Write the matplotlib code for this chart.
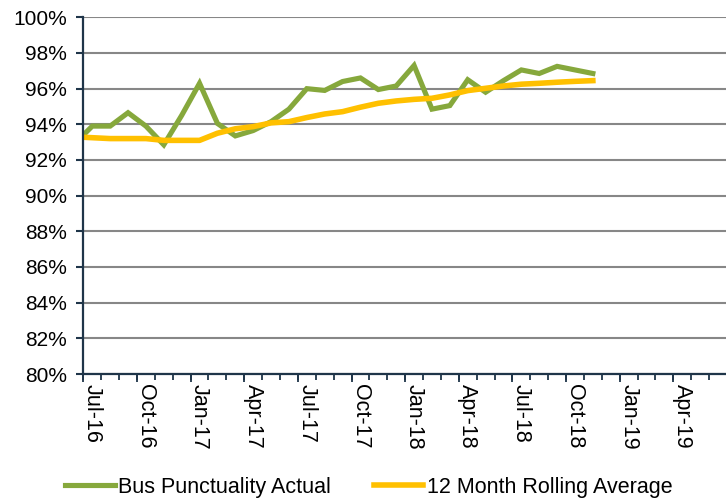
import numpy as np
import matplotlib.pyplot as plt
from matplotlib.ticker import FuncFormatter, FixedLocator

plt.rcParams['font.family'] = ['Liberation Sans', 'DejaVu Sans']

# monthly data, Jun-16 .. Nov-18 (axis starts at Jul-16)
months = ['Jun-16', 'Jul-16', 'Aug-16', 'Sep-16', 'Oct-16', 'Nov-16', 'Dec-16',
          'Jan-17', 'Feb-17', 'Mar-17', 'Apr-17', 'May-17', 'Jun-17', 'Jul-17',
          'Aug-17', 'Sep-17', 'Oct-17', 'Nov-17', 'Dec-17', 'Jan-18', 'Feb-18',
          'Mar-18', 'Apr-18', 'May-18', 'Jun-18', 'Jul-18', 'Aug-18', 'Sep-18',
          'Oct-18', 'Nov-18']
actual = [92.9, 93.9, 93.9, 94.65, 93.9, 92.85, 94.5, 96.3, 94.05, 93.35, 93.65,
          94.15, 94.85, 96.0, 95.9, 96.4, 96.6, 95.95, 96.15, 97.3, 94.85, 95.05,
          96.5, 95.8, 96.45, 97.05, 96.85, 97.25, 97.05, 96.85]
rolling = [93.3, 93.25, 93.2, 93.2, 93.2, 93.1, 93.1, 93.1, 93.5, 93.75, 93.87,
           94.08, 94.15, 94.38, 94.58, 94.71, 94.96, 95.18, 95.31, 95.4, 95.46,
           95.65, 95.89, 96.02, 96.15, 96.25, 96.3, 96.36, 96.41, 96.45]
tick_labels = ['Jul-16', 'Oct-16', 'Jan-17', 'Apr-17', 'Jul-17', 'Oct-17',
               'Jan-18', 'Apr-18', 'Jul-18', 'Oct-18', 'Jan-19', 'Apr-19']

# month index relative to Jul-16, points sit in the middle of each month
x = np.arange(len(months)) - 1 + 0.5

fig = plt.figure(figsize=(7.26, 4.99), dpi=100)
ax = fig.add_axes([0.1148, 0.2505, 0.8865, 0.7148])

navy = '#1f3549'
ax.plot(x, actual, color='#86a83c', lw=3.7, solid_joinstyle='miter',
        label='Bus Punctuality Actual', zorder=3)
ax.plot(x, rolling, color='#ffc000', lw=4.0, label='12 Month Rolling Average', zorder=4)

ax.set_xlim(0, 36)
ax.set_ylim(80, 100)
ax.set_yticks(np.arange(80, 101, 2))
ax.yaxis.set_major_formatter(FuncFormatter(lambda v, p: '%d%%' % v))
ax.grid(axis='y', color='#878787', lw=1.5)
ax.set_axisbelow(True)

for s in ['top', 'right']:
    ax.spines[s].set_visible(False)
for s in ['left', 'bottom']:
    ax.spines[s].set_color(navy)
    ax.spines[s].set_linewidth(1.6)
ax.spines['left'].set_zorder(5)

ax.tick_params(axis='y', length=5, width=1.5, color=navy, labelsize=15, pad=7)

# labels centred on the month, small tick every month
ax.set_xticks(np.arange(0, 36, 3) + 0.5)
ax.set_xticklabels(tick_labels, rotation=-90, fontsize=15.5)
ax.tick_params(axis='x', which='major', length=0, pad=7)
ax.xaxis.set_minor_locator(FixedLocator(np.arange(0, 37, 1)))
ax.tick_params(axis='x', which='minor', length=4, width=1.3, color=navy)

sec = ax.secondary_xaxis('bottom')
sec.set_xticks(np.arange(0, 37, 3))
sec.set_xticklabels([])
sec.tick_params(length=6, width=1.3, color=navy)
sec.spines['bottom'].set_visible(False)

fig.legend(loc='center', bbox_to_anchor=(0.508, 0.024), ncol=2, frameon=False,
           fontsize=15.5, handlelength=2.3, handletextpad=0.15, columnspacing=2.0)

fig.savefig('out.png', dpi=100)
